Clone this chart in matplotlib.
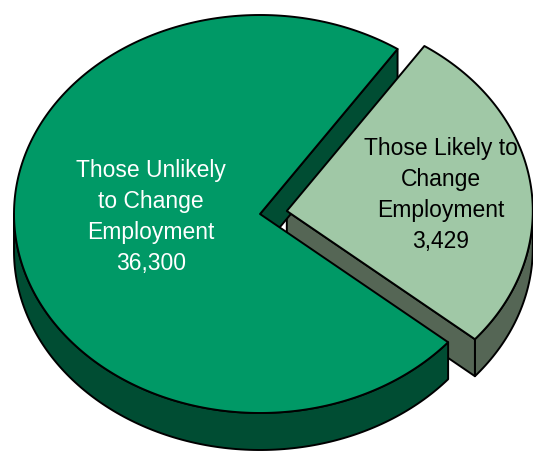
import numpy as np
import matplotlib.pyplot as plt
from matplotlib.patches import Polygon

### chart data
labels = ["Those Unlikely\nto Change\nEmployment", "Those Likely to\nChange\nEmployment"]
counts = [36300, 3429]
# slice sizes as drawn in the picture (percent of the circle)
shares = [73.3, 26.7]
explode = [0.0, 0.11]

top_colors = ["#009966", "#A0C8A6"]
side_colors = ["#004D33", "#556655"]
text_colors = ["white", "black"]

### geometry (pixel space)
CX, CY = 260, 215
RX, RY = 246, 199
DEPTH = 37
START = 56.0

plt.rcParams['font.family'] = ['Liberation Sans', 'DejaVu Sans']

fig = plt.figure(figsize=(5.33, 4.56), dpi=100)
ax = fig.add_axes([0, 0, 1, 1])
ax.set_xlim(0, 533)
ax.set_ylim(456, 0)
ax.axis('off')


def proj(cx, cy, r, th):
    t = np.radians(th)
    return cx + RX * r * np.cos(t), cy - RY * r * np.sin(t)


def arc(cx, cy, t1, t2, dz=0):
    th = np.linspace(t1, t2, max(int(abs(t2 - t1)), 2) + 1)
    x, y = proj(cx, cy, 1.0, th)
    return np.column_stack([x, y + dz])


edge = dict(edgecolor='black', linewidth=1.4, joinstyle='round')
angle = START
for i, share in enumerate(shares):
    t1 = angle
    t2 = angle + share * 3.6
    angle = t2
    mid = (t1 + t2) / 2
    ox = RX * explode[i] * np.cos(np.radians(mid))
    oy = -RY * explode[i] * np.sin(np.radians(mid))
    cx, cy = CX + ox, CY + oy
    # the small slice sits behind the big one, so draw it lower
    zs = 1 if i == 0 else 0

    # outer side wall, only the front half shows
    lo, hi = max(t1, 180), min(t2, 360)
    if hi > lo:
        top = arc(cx, cy, lo, hi)
        bot = arc(cx, cy, hi, lo, DEPTH)
        ax.add_patch(Polygon(np.vstack([top, bot]), facecolor=side_colors[i], zorder=1 + zs * 2, **edge))

    # radial faces
    for t, nrm in [(t1, t1 - 90), (t2, t2 + 90)]:
        if np.sin(np.radians(nrm)) < 0:
            ex, ey = proj(cx, cy, 1.0, t)
            pts = [(cx, cy), (ex, ey), (ex, ey + DEPTH), (cx, cy + DEPTH)]
            ax.add_patch(Polygon(pts, facecolor=side_colors[i], zorder=1 + zs * 2, **edge))

    # top face
    top = np.vstack([[cx, cy], arc(cx, cy, t1, t2)])
    ax.add_patch(Polygon(top, facecolor=top_colors[i], zorder=5 + zs, **edge))

# labels
ax.text(151, 217, labels[0] + "\n" + f"{counts[0]:,}", color=text_colors[0],
        fontsize=16.5, ha='center', va='center', linespacing=1.45, zorder=10)
ax.text(441, 195, labels[1] + "\n" + f"{counts[1]:,}", color=text_colors[1],
        fontsize=16.5, ha='center', va='center', linespacing=1.45, zorder=10)

fig.savefig("out.png", dpi=100)
